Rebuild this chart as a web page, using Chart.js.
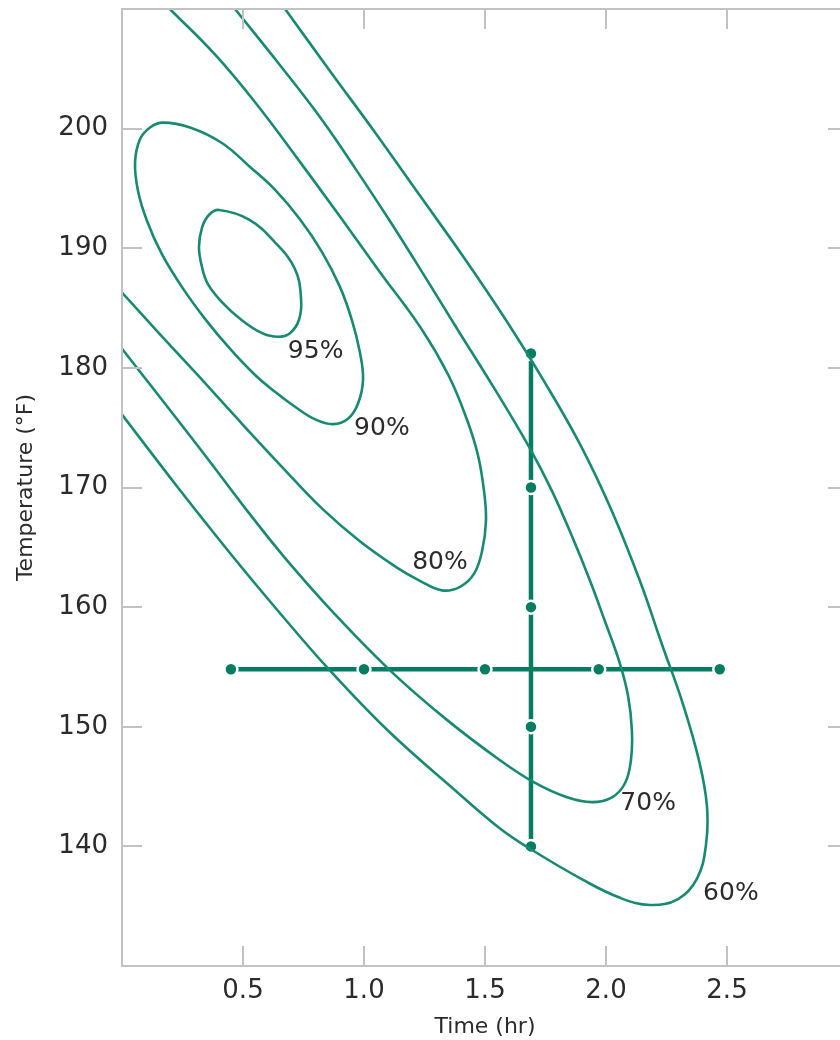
<!DOCTYPE html>
<html>
<head>
<meta charset="utf-8">
<script src="https://cdn.jsdelivr.net/npm/chart.js@4.4.1/dist/chart.umd.min.js"></script>
<style>
    html, body { margin: 0; padding: 0; background: #fff; overflow: hidden; }
    #wrap { width: 840px; height: 1040px; overflow: hidden; }
</style>
</head>
<body>
<div id="wrap"><canvas id="contourChart" width="860" height="1040"></canvas></div>
<script>
// Tick labels
const xTicks = [0.5, 1.0, 1.5, 2.0, 2.5];
const yTicks = [140, 150, 160, 170, 180, 190, 200];

// Yield contours as [time (hr), temperature (F)]
const contour95 = [
    [0.632, 190.5], [0.715, 188.25], [0.740, 185.75], [0.731, 184.0], [0.694, 182.9],
    [0.645, 182.6], [0.579, 182.9], [0.488, 184.1], [0.413, 185.5], [0.355, 187.0],
    [0.331, 188.4], [0.318, 190.1], [0.331, 191.75], [0.360, 192.8], [0.401, 193.2],
    [0.525, 192.4]
];
const contour90 = [
    [0.529, 196.8], [0.632, 194.9], [0.736, 192.4], [0.826, 189.7], [0.901, 186.75],
    [0.950, 184.0], [0.983, 181.3], [0.996, 179.0], [0.975, 177.0], [0.934, 175.75],
    [0.872, 175.3], [0.798, 175.7], [0.715, 176.75], [0.632, 178.0], [0.550, 179.4],
    [0.446, 181.6], [0.343, 184.1], [0.248, 186.75], [0.165, 189.5], [0.103, 192.3],
    [0.066, 194.8], [0.054, 197.2], [0.074, 199.1], [0.116, 200.1], [0.169, 200.5],
    [0.281, 200.1], [0.413, 198.8]
];
const contour80 = [
    [0, 186.3], [0.157, 182.8], [0.322, 179.2], [0.488, 175.5], [0.653, 171.9],
    [0.826, 168.25], [0.983, 165.5], [1.136, 163.3], [1.231, 162.2], [1.322, 161.4],
    [1.397, 161.7], [1.455, 162.8], [1.488, 164.7], [1.504, 167.2], [1.496, 169.7],
    [1.471, 172.7], [1.425, 175.7], [1.351, 179.3], [1.236, 183.3], [1.066, 188.0],
    [0.897, 192.75], [0.736, 197.2], [0.550, 202.2], [0.384, 206.2], [0.198, 210.0]
];
const contour70 = [
    [0, 181.6], [0.178, 177.0], [0.343, 172.7], [0.508, 168.3], [0.674, 164.1],
    [0.880, 159.4], [1.103, 154.8], [1.335, 150.7], [1.562, 147.2], [1.707, 145.3],
    [1.839, 144.1], [1.942, 143.7], [2.025, 144.1], [2.079, 145.3], [2.103, 147.2],
    [2.107, 149.7], [2.091, 152.6], [2.054, 155.5], [1.996, 158.8], [1.934, 162.2],
    [1.860, 165.9], [1.777, 169.7], [1.686, 173.25], [1.541, 178.2], [1.393, 183.0],
    [1.248, 187.75], [1.103, 192.4], [0.963, 196.7], [0.826, 200.75], [0.653, 205.3],
    [0.467, 210.0]
];
const contour60 = [
    [0, 176.1], [0.231, 170.0], [0.467, 164.0], [0.661, 159.3], [0.855, 154.8],
    [1.103, 149.6], [1.376, 144.7], [1.562, 141.5], [1.686, 139.8], [1.905, 137.2],
    [2.058, 135.7], [2.182, 135.1], [2.298, 135.6], [2.376, 137.3], [2.413, 140.1],
    [2.417, 143.4], [2.384, 147.2], [2.318, 151.9], [2.231, 156.9], [2.140, 162.2],
    [2.025, 168.0], [1.893, 173.6], [1.748, 178.75], [1.583, 184.1], [1.417, 189.1],
    [1.231, 194.4], [1.045, 199.7], [0.860, 204.8], [0.674, 210.0]
];

// Design points: time sweep at fixed temperature, temperature sweep at fixed time
const timeRunTimes = [0.45, 1.0, 1.5, 1.97, 2.47];
const timeRunTemp = 154.8;
const tempRunTemps = [181.2, 170, 160, 150, 140];
const tempRunTime = 1.69;

// Contour labels
const contourLabels = ['95%', '90%', '80%', '70%', '60%'];
const labelTimes = [0.80, 1.074, 1.314, 2.174, 2.516];
const labelTemps = [181.4, 174.9, 163.7, 143.6, 136.1];

const lineColor = '#188a72';
const crossColor = '#067c62';
const axisColor = '#c2c2c2';
const textColor = '#2b2b2b';
const fontFamily = '"DejaVu Sans", Verdana, sans-serif';

function toPoints(pairs) {
    return pairs.map(p => ({ x: p[0], y: p[1] }));
}

function contourDataset(pairs, closed) {
    return {
        data: toPoints(pairs),
        closed: closed,
        borderColor: lineColor,
        borderWidth: 2.6,
        pointRadius: 0,
        tension: 0.4,
        fill: false
    };
}

function crossDataset(points) {
    return {
        data: points,
        borderColor: crossColor,
        borderWidth: 4.5,
        pointRadius: 6.5,
        pointBackgroundColor: crossColor,
        pointBorderColor: '#ffffff',
        pointBorderWidth: 2.5,
        tension: 0
    };
}

// Close the inner rings the way the radar chart does, so the spline wraps round smoothly
const ringPlugin = {
    id: 'ring',
    afterDatasetUpdate(chart, args) {
        const ds = chart.data.datasets[args.index];
        const line = args.meta.dataset;
        if (!ds.closed || !line) return;
        line._loop = true;
        line._fullLoop = true;
        line._pointsUpdated = false;
        line._segments = undefined;
        line._path = undefined;
        line.updateControlPoints(chart.chartArea, 'x');
    }
};

// Frame with inward ticks on all four sides, plus the contour labels
const framePlugin = {
    id: 'frame',
    afterDraw(chart) {
        const ctx = chart.ctx;
        const area = chart.chartArea;
        const xs = chart.scales.x;
        const ys = chart.scales.y;
        const tick = 20;
        ctx.save();
        ctx.strokeStyle = axisColor;
        ctx.lineWidth = 2;
        ctx.strokeRect(area.left, area.top, area.right - area.left, area.bottom - area.top);
        ctx.beginPath();
        xTicks.forEach(v => {
            const px = Math.round(xs.getPixelForValue(v));
            ctx.moveTo(px, area.bottom); ctx.lineTo(px, area.bottom - tick);
            ctx.moveTo(px, area.top); ctx.lineTo(px, area.top + tick);
        });
        yTicks.forEach(v => {
            const py = Math.round(ys.getPixelForValue(v));
            ctx.moveTo(area.left, py); ctx.lineTo(area.left + tick, py);
            ctx.moveTo(area.right, py); ctx.lineTo(area.right - tick, py);
        });
        ctx.stroke();

        ctx.fillStyle = textColor;
        ctx.font = '25px ' + fontFamily;
        ctx.textAlign = 'center';
        ctx.textBaseline = 'middle';
        contourLabels.forEach((t, i) => {
            ctx.fillText(t, xs.getPixelForValue(labelTimes[i]), ys.getPixelForValue(labelTemps[i]));
        });
        ctx.restore();
    }
};

const ctx = document.getElementById('contourChart').getContext('2d');

new Chart(ctx, {
    type: 'line',
    data: {
        datasets: [
            contourDataset(contour95, true),
            contourDataset(contour90, true),
            contourDataset(contour80, false),
            contourDataset(contour70, false),
            contourDataset(contour60, false),
            crossDataset(timeRunTimes.map(t => ({ x: t, y: timeRunTemp }))),
            crossDataset(tempRunTemps.map(v => ({ x: tempRunTime, y: v })))
        ]
    },
    options: {
        responsive: false,
        animation: false,
        devicePixelRatio: 1,
        layout: { padding: { top: 6, right: 12, left: 0, bottom: 0 } },
        plugins: {
            legend: { display: false },
            tooltip: { enabled: false }
        },
        scales: {
            x: {
                type: 'linear',
                min: 0,
                max: 3,
                afterBuildTicks: scale => { scale.ticks = xTicks.map(v => ({ value: v })); },
                afterFit: scale => {
                    scale.height = 74;
                    scale.paddingLeft = 0;
                    scale.paddingRight = 0;
                },
                grid: { display: false },
                border: { display: false },
                ticks: {
                    padding: 2,
                    color: textColor,
                    font: { family: fontFamily, size: 26 },
                    callback: v => v.toFixed(1)
                },
                title: {
                    display: true,
                    text: 'Time (hr)',
                    color: textColor,
                    font: { family: fontFamily, size: 22 },
                    padding: { top: 0, bottom: 0 }
                }
            },
            y: {
                type: 'linear',
                min: 130,
                max: 210,
                afterBuildTicks: scale => { scale.ticks = yTicks.map(v => ({ value: v })); },
                afterFit: scale => {
                    scale.width = 122;
                    scale.paddingTop = 0;
                    scale.paddingBottom = 0;
                },
                grid: { display: false },
                border: { display: false },
                ticks: {
                    padding: 6,
                    color: textColor,
                    font: { family: fontFamily, size: 26 }
                },
                title: {
                    display: true,
                    text: 'Temperature (°F)',
                    color: textColor,
                    font: { family: fontFamily, size: 22 },
                    padding: { top: 13, bottom: 0 }
                }
            }
        }
    },
    plugins: [ringPlugin, framePlugin]
});
</script>
</body>
</html>
